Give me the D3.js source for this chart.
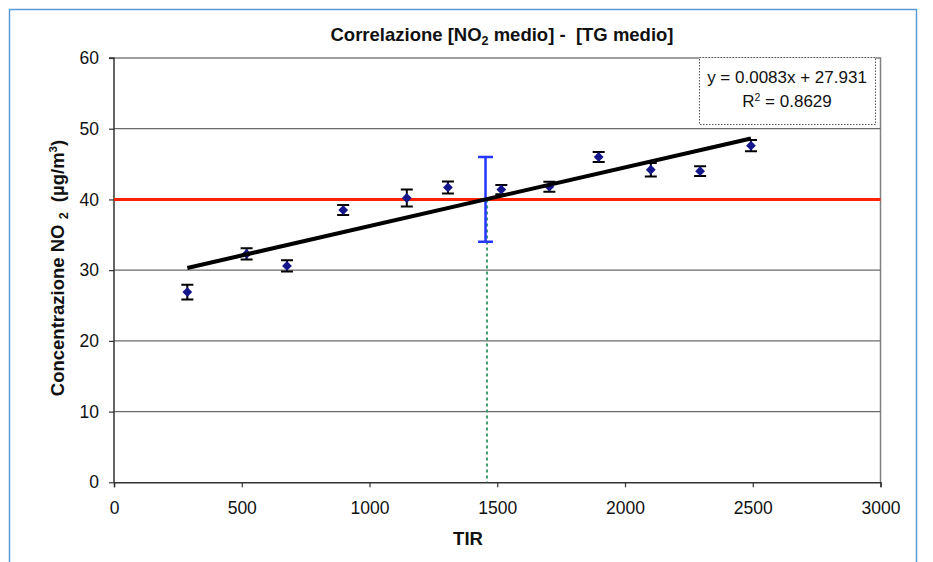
<!DOCTYPE html>
<html>
<head>
<meta charset="utf-8">
<script src="https://cdn.jsdelivr.net/npm/d3@7"></script>
<style>
  html, body { margin: 0; padding: 0; background: #fff; }
  svg { display: block; font-family: "Liberation Sans", Arial, sans-serif; }
  svg text { white-space: pre; }
</style>
</head>
<body>
<svg id="chart" width="933" height="562"></svg>
<script>
// Measured stations: traffic index (TIR) vs mean NO2 concentration
const tirValues  = [287, 519, 677, 897, 1146, 1307, 1516, 1704, 1897, 2101, 2294, 2493];
const no2Values  = [26.9, 32.3, 30.6, 38.5, 40.2, 41.7, 41.4, 41.8, 46.0, 44.2, 44.0, 47.6];
const no2Errors  = [1.05, 0.8, 0.8, 0.7, 1.2, 0.85, 0.65, 0.7, 0.7, 0.95, 0.7, 0.8];

// Linear trend
const trendSlope = 0.0083;
const trendIntercept = 27.931;
const trendR2 = 0.8629;

// Limit value and the TIR where the trend reaches it
const limitValue = 40;
const limitError = 6;
const limitTir = (limitValue - trendIntercept) / trendSlope;

const xTicks = [0, 500, 1000, 1500, 2000, 2500, 3000];
const yTicks = [0, 10, 20, 30, 40, 50, 60];

const svg = d3.select("#chart");

// outer frame
svg.append("rect")
  .attr("x", 9.5).attr("y", 9.5).attr("width", 907).attr("height", 600)
  .attr("fill", "none").attr("stroke", "#5b9bd5").attr("stroke-width", 1.5);

const x = d3.scaleLinear().domain([0, 3000]).range([114, 880.5]);
const y = d3.scaleLinear().domain([0, 60]).range([482.3, 58]);

// plot area border (top / right)
svg.append("path")
  .attr("d", `M${x(0)},${y(60)}H${x(3000)}V${y(0)}`)
  .attr("fill", "none").attr("stroke", "#808080").attr("stroke-width", 1.5);

// horizontal gridlines
svg.append("g").selectAll("line")
  .data(yTicks.filter(d => d > 0 && d < 60))
  .join("line")
  .attr("x1", x(0)).attr("x2", x(3000))
  .attr("y1", d => y(d)).attr("y2", d => y(d))
  .attr("stroke", "#6a6a6a").attr("stroke-width", 1.2);

// axes
const yAxis = d3.axisLeft(y).tickValues(yTicks).tickSize(5).tickPadding(10).tickFormat(d3.format("d"));
const xAxis = d3.axisBottom(x).tickValues(xTicks).tickSize(5).tickPadding(14).tickFormat(d3.format("d"));

const gy = svg.append("g").attr("transform", `translate(${x(0)},0)`).call(yAxis);
const gx = svg.append("g").attr("transform", `translate(0,${y(0)})`).call(xAxis);
[gx, gy].forEach(g => {
  g.select(".domain").attr("stroke", "#333").attr("stroke-width", 1.5);
  g.selectAll(".tick line").attr("stroke", "#333").attr("stroke-width", 1.2);
  g.selectAll(".tick text").attr("fill", "#111").style("font-size", "17.5px")
    .style("font-family", "'Liberation Sans', Arial, sans-serif");
});
gy.select(".domain").attr("d", `M-5,${y(60)}H0V${y(0)}`);

// limit line
svg.append("line")
  .attr("x1", x(0)).attr("x2", x(3000))
  .attr("y1", y(limitValue)).attr("y2", y(limitValue))
  .attr("stroke", "#ff2200").attr("stroke-width", 3);

// error bars
const pts = tirValues.map((t, i) => ({ t, v: no2Values[i], e: no2Errors[i] }));
const eb = svg.append("g").attr("stroke", "#000").attr("stroke-width", 2);
eb.selectAll("path").data(pts).join("path")
  .attr("fill", "none")
  .attr("d", d => {
    const cx = x(d.t), y1 = y(d.v + d.e), y2 = y(d.v - d.e);
    return `M${cx - 6},${y1}H${cx + 6}M${cx},${y1}V${y2}M${cx - 6},${y2}H${cx + 6}`;
  });

// markers
const diamond = d3.symbol().type(d3.symbolSquare).size(48);
svg.append("g").selectAll("path").data(pts).join("path")
  .attr("d", diamond)
  .attr("transform", d => `translate(${x(d.t)},${y(d.v)}) rotate(45)`)
  .attr("fill", "#16168c");

// vertical dotted projection
svg.append("line")
  .attr("x1", x(limitTir) + 1.5).attr("x2", x(limitTir) + 1.5)
  .attr("y1", y(limitValue)).attr("y2", y(0))
  .attr("stroke", "#3f9e6e").attr("stroke-width", 2).attr("stroke-dasharray", "3,3");

// uncertainty on the intersection
svg.append("path")
  .attr("fill", "none").attr("stroke", "#2436ff").attr("stroke-width", 2.5)
  .attr("d", () => {
    const cx = x(limitTir), y1 = y(limitValue + limitError), y2 = y(limitValue - limitError);
    return `M${cx - 7.5},${y1}H${cx + 7.5}M${cx},${y1}V${y2}M${cx - 7.5},${y2}H${cx + 7.5}`;
  });

// trendline
const xMin = d3.min(tirValues), xMax = d3.max(tirValues);
svg.append("line")
  .attr("x1", x(xMin)).attr("y1", y(trendIntercept + trendSlope * xMin))
  .attr("x2", x(xMax)).attr("y2", y(trendIntercept + trendSlope * xMax))
  .attr("stroke", "#000").attr("stroke-width", 4);

// equation box
const box = svg.append("g");
box.append("rect")
  .attr("x", 699.5).attr("y", 57.5).attr("width", 176).attr("height", 67)
  .attr("fill", "#fff").attr("stroke", "#555").attr("stroke-width", 1)
  .attr("stroke-dasharray", "1.5,1.5");
box.append("text")
  .attr("x", 787).attr("y", 82.5).attr("text-anchor", "middle")
  .style("font-size", "17px").attr("fill", "#111")
  .text(`y = ${trendSlope}x + ${trendIntercept}`);
const r2 = box.append("text")
  .attr("x", 787).attr("y", 107).attr("text-anchor", "middle")
  .style("font-size", "17px").attr("fill", "#111");
r2.append("tspan").text("R");
r2.append("tspan").attr("dy", -6).style("font-size", "10.5px").text("2");
r2.append("tspan").attr("dy", 6).text(` = ${trendR2}`);

// title
const title = svg.append("text")
  .attr("x", 502).attr("y", 41).attr("text-anchor", "middle")
  .style("font-size", "18.5px").style("font-weight", "bold").attr("fill", "#111");
title.append("tspan").text("Correlazione [NO");
title.append("tspan").attr("dy", 4).style("font-size", "12.5px").text("2");
title.append("tspan").attr("dy", -4).text(" medio] -  [TG medio]");

// axis titles
svg.append("text")
  .attr("x", 468).attr("y", 545).attr("text-anchor", "middle")
  .style("font-size", "18.5px").style("font-weight", "bold").attr("fill", "#111")
  .text("TIR");

const yt = svg.append("text")
  .attr("transform", "translate(64,268) rotate(-90)")
  .attr("text-anchor", "middle")
  .style("font-size", "18.5px").style("font-weight", "bold").attr("fill", "#111");
yt.append("tspan").text("Concentrazione NO ");
yt.append("tspan").attr("dy", 4).style("font-size", "12.5px").text("2");
yt.append("tspan").attr("dy", -4).text("  (µg/m");
yt.append("tspan").attr("dy", -7).style("font-size", "11.5px").text("3");
yt.append("tspan").attr("dy", 7).text(")");
</script>
</body>
</html>
